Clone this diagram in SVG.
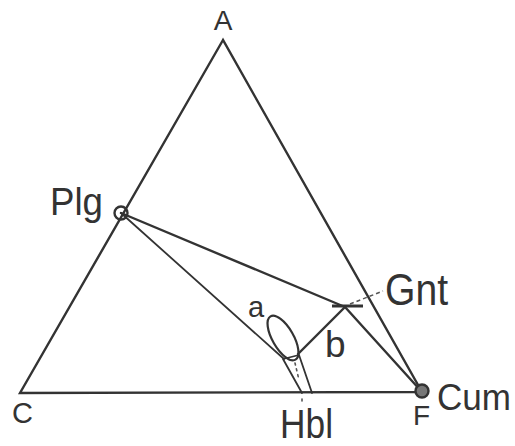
<svg xmlns="http://www.w3.org/2000/svg" width="515" height="446" viewBox="0 0 515 446">
<style>
.ln{stroke:#333;stroke-width:2.4;fill:none;stroke-linecap:round}
.thin{stroke:#333;stroke-width:1.8;fill:none;stroke-linecap:round}
.dash{stroke:#555;stroke-width:1.5;fill:none;stroke-dasharray:4 3}
.dot{stroke:#555;stroke-width:1.6;fill:none;stroke-dasharray:2 4;stroke-linecap:round}
text{font-family:"Liberation Sans",Arial,sans-serif;fill:#333}
</style>
<rect width="515" height="446" fill="#fff"/>
<g id="connectors">
<path class="ln" d="M223,40 L20,393 L422,392 Z"/>
<line class="ln" x1="121" y1="213" x2="345" y2="307"/>
<line class="ln" x1="345" y1="307" x2="422" y2="392"/>
<line class="thin" x1="121" y1="213" x2="284" y2="359"/>
<line class="ln" x1="345" y1="307" x2="298" y2="354"/>
<line class="dash" x1="350" y1="304" x2="383" y2="291"/>
<path class="thin" d="M283,359 L299,355 M283,359 L302,393 M299,355 L312,393"/>
<line class="dot" x1="295" y1="363" x2="299" y2="380"/>
<line class="dot" x1="302" y1="399" x2="302" y2="404"/>
</g>
<g id="Plg">
<circle cx="121" cy="213" r="6.5" fill="none" stroke="#333" stroke-width="2.4"/>
<text x="50" y="215" font-size="38" textLength="53" lengthAdjust="spacingAndGlyphs">Plg</text>
</g>
<g id="Gnt">
<line x1="332" y1="306" x2="363" y2="306" stroke="#333" stroke-width="3"/>
<text x="385" y="305" font-size="44" textLength="63" lengthAdjust="spacingAndGlyphs">Gnt</text>
</g>
<g id="Cum">
<circle cx="422" cy="391" r="6.5" fill="#777" stroke="#333" stroke-width="2.4"/>
<text x="437" y="410" font-size="37" textLength="74" lengthAdjust="spacingAndGlyphs">Cum</text>
</g>
<g id="Hbl">
<text x="280" y="438" font-size="40" textLength="53" lengthAdjust="spacingAndGlyphs">Hbl</text>
</g>
<g id="a">
<ellipse cx="283" cy="338" rx="25" ry="10.5" transform="rotate(60 283 338)" fill="none" stroke="#333" stroke-width="2.2"/>
<text x="248" y="317" font-size="29">a</text>
</g>
<g id="b">
<text x="325" y="357" font-size="37">b</text>
</g>
<g id="A"><text x="223" y="30" font-size="28" text-anchor="middle">A</text></g>
<g id="C"><text x="12" y="423" font-size="29">C</text></g>
<g id="F"><text x="413" y="425" font-size="28">F</text></g>
</svg>
